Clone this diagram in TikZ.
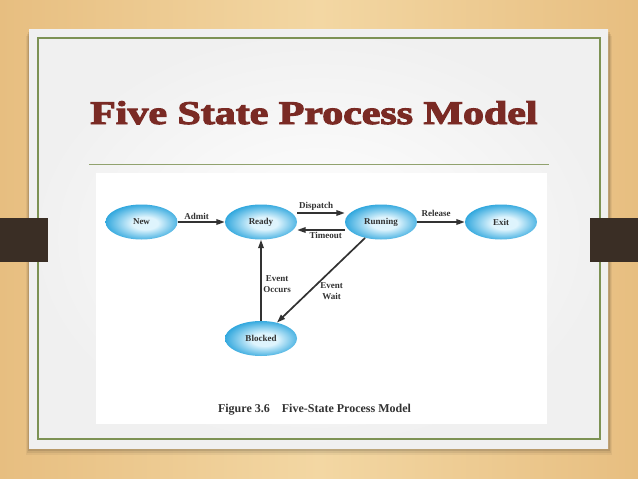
\documentclass[tikz,border=0pt]{standalone}
\usepackage{fontspec}
\setmainfont{Liberation Serif}
\newfontfamily\titlefont{Liberation Serif Bold}[FakeBold=3]
\usetikzlibrary{shapes.geometric}
\usetikzlibrary{arrows.meta}
\definecolor{wood}{RGB}{231,190,128}
\definecolor{woodlight}{RGB}{243,215,163}
\definecolor{slideedge}{RGB}{240,240,240}
\definecolor{frame}{RGB}{125,146,84}
\definecolor{tab}{RGB}{58,46,37}
\definecolor{titlered}{RGB}{122,42,36}
\definecolor{stateblue}{RGB}{46,166,221}
\definecolor{statelight}{RGB}{222,244,253}
\definecolor{ink}{RGB}{50,50,50}
\pgfdeclareradialshading{statefill}{\pgfpoint{3bp}{-2bp}}{%
	color(0bp)=(statelight); color(9bp)=(statelight);
	color(27bp)=(stateblue); color(50bp)=(stateblue)}

\begin{document}
\begin{tikzpicture}[
	x=1pt, y=-1pt,
	state/.style={
		ellipse,
		minimum width=72pt,
		minimum height=35pt,
		inner sep=0pt,
		shade,
		shading=statefill,
		text=ink,
		font=\bfseries\fontsize{9}{10}\selectfont
		},
	trans/.style={
		draw=ink,
		line width=1.7pt,
		-{Triangle[length=8.5pt,width=5.5pt]}
	},
	lbl/.style={
		text=ink,
		inner sep=1.5pt,
		align=center,
		font=\bfseries\fontsize{9}{11}\selectfont
	}
]
\useasboundingbox (0,0) rectangle (638,479);

% Slide
\shade [left color=wood, right color=wood, middle color=woodlight] (0,0) rectangle (638,479);
\foreach \o/\a in {7/0.05,5/0.07,3/0.1}
	\fill [black, opacity=\a] (29-\o/2,29+\o) rectangle (608+\o/2,448+\o);
\shade [inner color=white, outer color=slideedge] (29,29) rectangle (608,448);
\draw [frame, line width=1.5pt] (38,38) rectangle (600,439);
\fill [tab] (0,218) rectangle (48,262);
\fill [tab] (590,218) rectangle (638,262);

% Title
\node [anchor=base west, inner sep=0pt, xscale=1.27, text=titlered, font=\titlefont\fontsize{33}{33}\selectfont] (Title) at (90,124) {Five State Process Model};
\draw [frame!85, line width=0.8pt] (89,164) -- (549,164);

% Figure
\fill [white] (96,173) rectangle (547,424);

% States
\node [state] (New) at (141.5,222) {New};
\node [state] (Ready) at (261,222) {Ready};
\node [state] (Running) at (381,222) {Running};
\node [state] (Exit) at (501,222) {Exit};
\node [state] (Blocked) at (261,338.5) {Blocked};

% Transitions
\draw [trans] (New) -- node [lbl, above, pos=0.4] {Admit} (Ready);
\draw [trans] ([yshift=9pt]Ready.east) -- node [lbl, above, pos=0.4] {Dispatch} ([yshift=9pt]Running.west);
\draw [trans] ([yshift=-8pt]Running.west) -- node [lbl, below, pos=0.4] {Timeout} ([yshift=-8pt]Ready.east);
\draw [trans] (Running) -- node [lbl, above, pos=0.4, yshift=3pt] {Release} (Exit);
\draw [trans] (Running.225) -- node [lbl, below right, xshift=-3pt] {Event\\Wait} (Blocked.45);
\draw [trans] (Blocked) -- node [lbl, right, pos=0.45] {Event\\Occurs} (Ready);

\node [lbl, anchor=base, font=\bfseries\fontsize{12}{14}\selectfont] (Caption) at (314.5,412) {Figure 3.6\quad Five-State Process Model};
\end{tikzpicture}
\end{document}
